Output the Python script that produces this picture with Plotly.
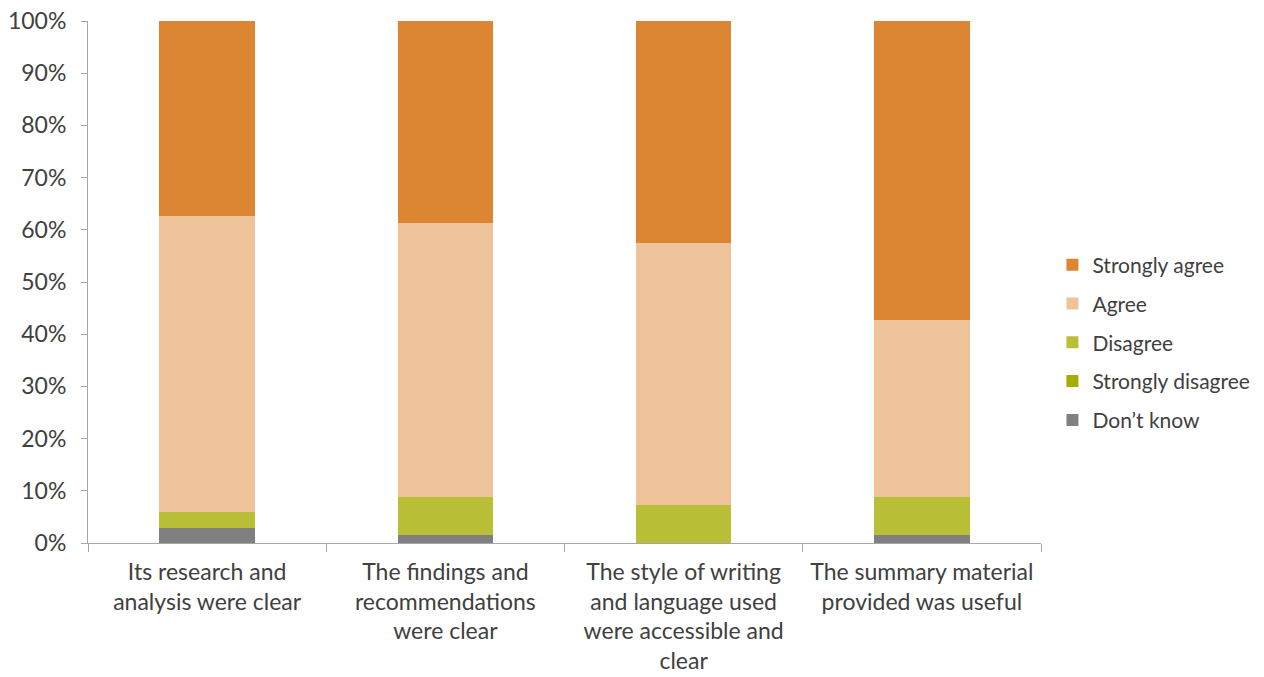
import plotly.graph_objects as go

categories = [
    "Its research and<br>analysis were clear",
    "The findings and<br>recommendations<br>were clear",
    "The style of writing<br>and language used<br>were accessible and<br>clear",
    "The summary material<br>provided was useful",
]

# percentages per response, bottom of the stack first
dont_know = [2.9, 1.5, 0.0, 1.5]
strongly_disagree = [0.0, 0.0, 0.0, 0.0]
disagree = [3.0, 7.4, 7.3, 7.3]
agree = [56.8, 52.4, 50.2, 33.9]
strongly_agree = [37.3, 38.7, 42.5, 57.3]

series = [
    ("Don\u2019t know", dont_know, "#808080"),
    ("Strongly disagree", strongly_disagree, "#A5AE00"),
    ("Disagree", disagree, "#B9BF36"),
    ("Agree", agree, "#EEC39A"),
    ("Strongly agree", strongly_agree, "#DC8633"),
]

FONT = "Lato, Open Sans, sans-serif"
TEXT = "#404040"
AXIS = "#A6A6A6"

fig = go.Figure()
for i, (name, values, color) in enumerate(series):
    fig.add_trace(
        go.Bar(
            name=name,
            x=categories,
            y=values,
            marker=dict(color=color, line=dict(width=0)),
            width=0.4,
            legendgroup=name,
            legendrank=len(series) - i,
        )
    )

# page body keeps an 8px margin, so the figure is a bit smaller than the window
fig.update_layout(
    barmode="stack",
    width=1256,
    height=669,
    margin=dict(l=80, r=223, t=13, b=134, autoexpand=False),
    plot_bgcolor="white",
    paper_bgcolor="white",
    font=dict(family=FONT, size=22, color=TEXT),
    legend=dict(
        traceorder="grouped",
        x=1.012,
        xanchor="left",
        y=0.384,
        yanchor="middle",
        font=dict(size=21, color=TEXT),
        tracegroupgap=8.5,
        itemwidth=30,
    ),
)

fig.update_xaxes(
    automargin=False,
    showline=True,
    linecolor=AXIS,
    linewidth=1,
    ticks="outside",
    tickson="boundaries",
    ticklen=8,
    tickcolor=AXIS,
    showgrid=False,
    tickfont=dict(size=23),
    ticklabelstandoff=8,
    ticklabeloverflow="allow",
)
fig.update_yaxes(
    automargin=False,
    range=[0, 100],
    dtick=10,
    ticksuffix="%",
    showline=True,
    linecolor=AXIS,
    linewidth=1,
    ticks="outside",
    ticklen=6,
    tickcolor=AXIS,
    showgrid=False,
    zeroline=False,
    tickfont=dict(size=23),
    ticklabelstandoff=10,
    ticklabeloverflow="allow",
)

fig.write_html("out.html")
